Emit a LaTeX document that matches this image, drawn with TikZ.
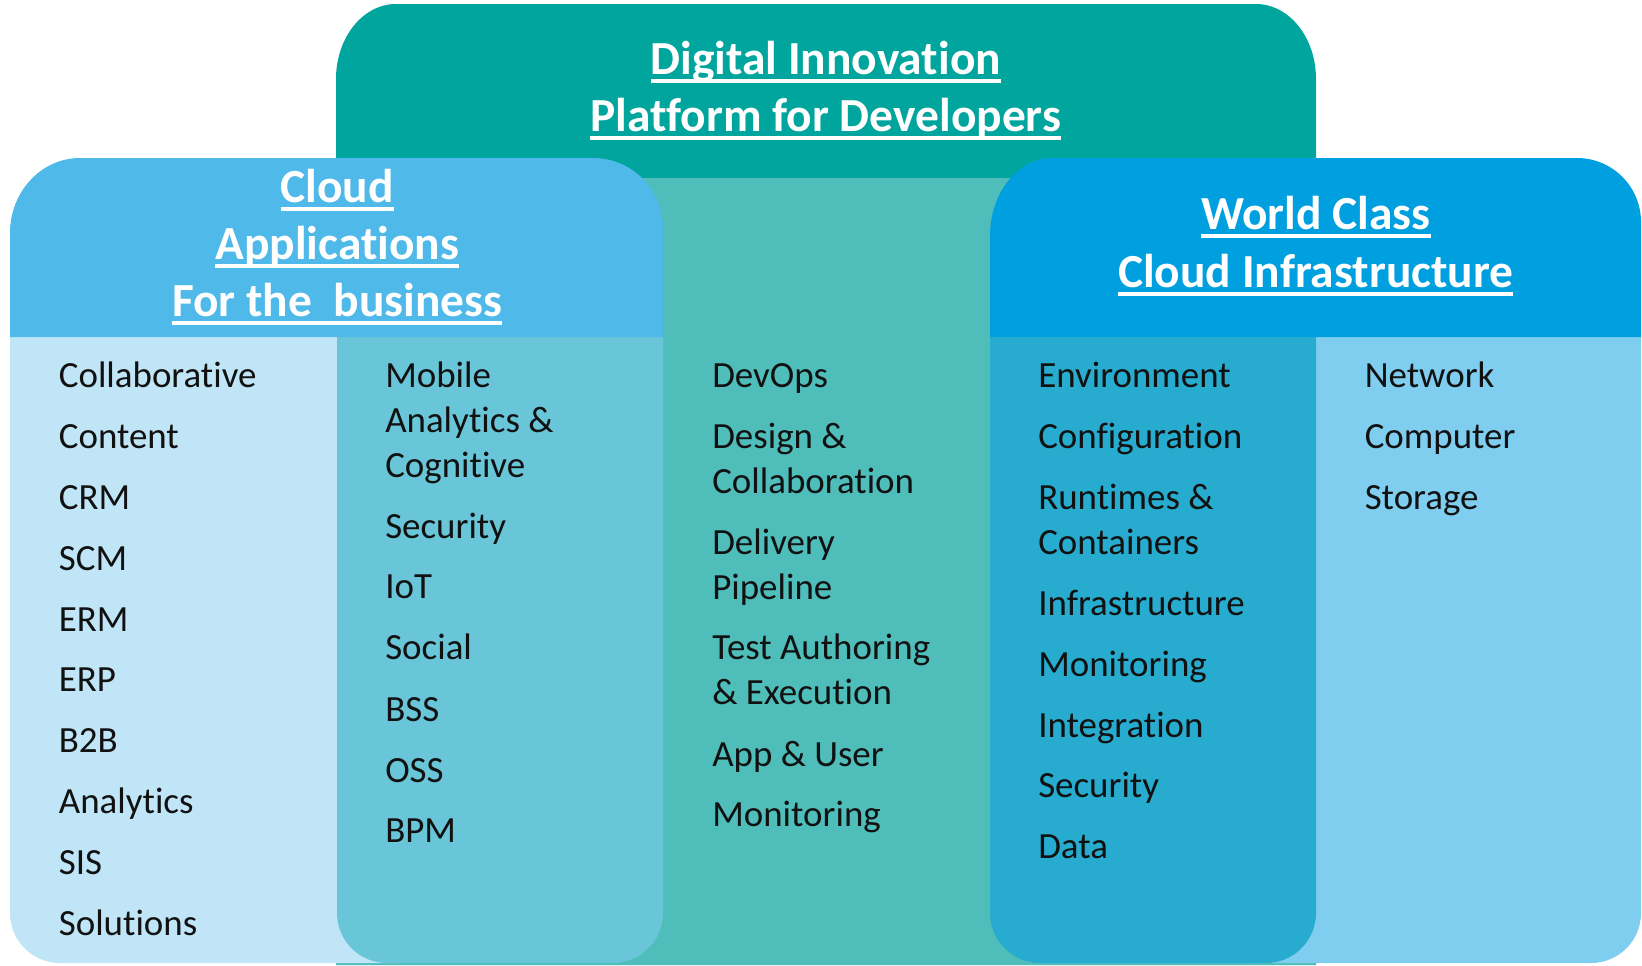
\documentclass[tikz,border=0pt]{standalone}
\usepackage{fontspec}
\setmainfont{Carlito}[Ligatures=NoCommon]
\definecolor{tealdark}{HTML}{00A59D}
\definecolor{teallight}{HTML}{4FBDBA}
\definecolor{lhead}{HTML}{4FB9E9}
\definecolor{colone}{HTML}{C0E5F7}
\definecolor{coltwo}{HTML}{69C5D8}
\definecolor{rhead}{HTML}{009FE0}
\definecolor{colfour}{HTML}{27ABCE}
\definecolor{colfive}{HTML}{7FCEEF}
\definecolor{itemtext}{HTML}{111111}
\newcommand{\ulx}[1]{\setbox0=\hbox{#1}\rlap{\rule[-6.4pt]{\wd0}{2.3pt}}\box0}
\begin{document}
\begin{tikzpicture}[x=0.75pt,y=-0.75pt,
  item/.style={inner sep=0pt,anchor=base west,text=itemtext,font=\fontsize{27.7pt}{33.8pt}\selectfont},
  head/.style={inner sep=0pt,anchor=base,text=white,font=\fontsize{35.6pt}{43pt}\selectfont\bfseries}]
\useasboundingbox (0,0) rectangle (1642,965);
% central teal box
\fill[tealdark] (336,965) -- (336,79) arc[start angle=180,end angle=270,x radius=60,y radius=75]
  -- (1256,4) arc[start angle=270,end angle=360,x radius=60,y radius=75] -- (1316,965) -- cycle;
\fill[teallight] (336,178) rectangle (1316,965);
% left block
\fill[colone] (400,337) -- (10,337) -- (10,913) arc[start angle=180,end angle=90,radius=50] -- (400,963) -- cycle;
\fill[coltwo] (337,337) -- (337,913) arc[start angle=180,end angle=90,radius=50]
  -- (613,963) arc[start angle=90,end angle=0,radius=50] -- (663,337) -- cycle;
\fill[lhead] (10,337) -- (10,233) arc[start angle=180,end angle=270,x radius=70,y radius=75]
  -- (593,158) arc[start angle=270,end angle=360,x radius=70,y radius=70] -- (663,337) -- cycle;
% right block
\fill[colfive] (1250,337) -- (1641,337) -- (1641,913) arc[start angle=0,end angle=90,radius=50] -- (1250,963) -- cycle;
\fill[colfour] (990,337) -- (990,913) arc[start angle=180,end angle=90,radius=50]
  -- (1266,963) arc[start angle=90,end angle=0,radius=50] -- (1316,337) -- cycle;
\fill[rhead] (990,337) -- (990,236) arc[start angle=180,end angle=270,x radius=62,y radius=78]
  -- (1577,158) arc[start angle=270,end angle=360,x radius=64,y radius=64] -- (1641,337) -- cycle;
% headers
\node[head] (h1a) at (825.7,74) {\ulx{Digital Innovation}};
\node[head] (h1b) at (825.7,131) {\ulx{Platform for Developers}};
\node[head] (h2a) at (337.2,202) {\ulx{Cloud}};
\node[head] (h2b) at (337.2,259) {\ulx{Applications}};
\node[head] (h2c) at (337.2,316) {\ulx{For the\ \ business}};
\node[head] (h3a) at (1315.8,229) {\ulx{World Class}};
\node[head] (h3b) at (1315.8,287) {\ulx{Cloud Infrastructure}};
% column 1
\foreach \y/\t [count=\i] in {387/Collaborative,448/Content,509/CRM,570/SCM,631/ERM,691/ERP,752/B2B,813/Analytics,874/SIS,935/Solutions}
  \node[item] (ca\i) at (58.6,\y) {\t};
% column 2
\foreach \y/\t [count=\i] in {387/Mobile,432/Analytics \&,477/Cognitive,538/Security,598/IoT,659/Social,721/BSS,782/OSS,842/BPM}
  \node[item] (cb\i) at (385,\y) {\t};
% column 3
\foreach \y/\t [count=\i] in {387/DevOps,448/Design \&,493/Collaboration,554/Delivery,599/Pipeline,659/Test Authoring,704/\& Execution,766/App \& User,826/Monitoring}
  \node[item] (cc\i) at (712,\y) {\t};
% column 4
\foreach \y/\t [count=\i] in {387/Environment,448/Configuration,509/Runtimes \&,554/Containers,615/Infrastructure,676/Monitoring,737/Integration,797/Security,858/Data}
  \node[item] (cd\i) at (1038,\y) {\t};
% column 5
\foreach \y/\t [count=\i] in {387/Network,448/Computer,509/Storage}
  \node[item] (ce\i) at (1364.5,\y) {\t};
\end{tikzpicture}
\end{document}
